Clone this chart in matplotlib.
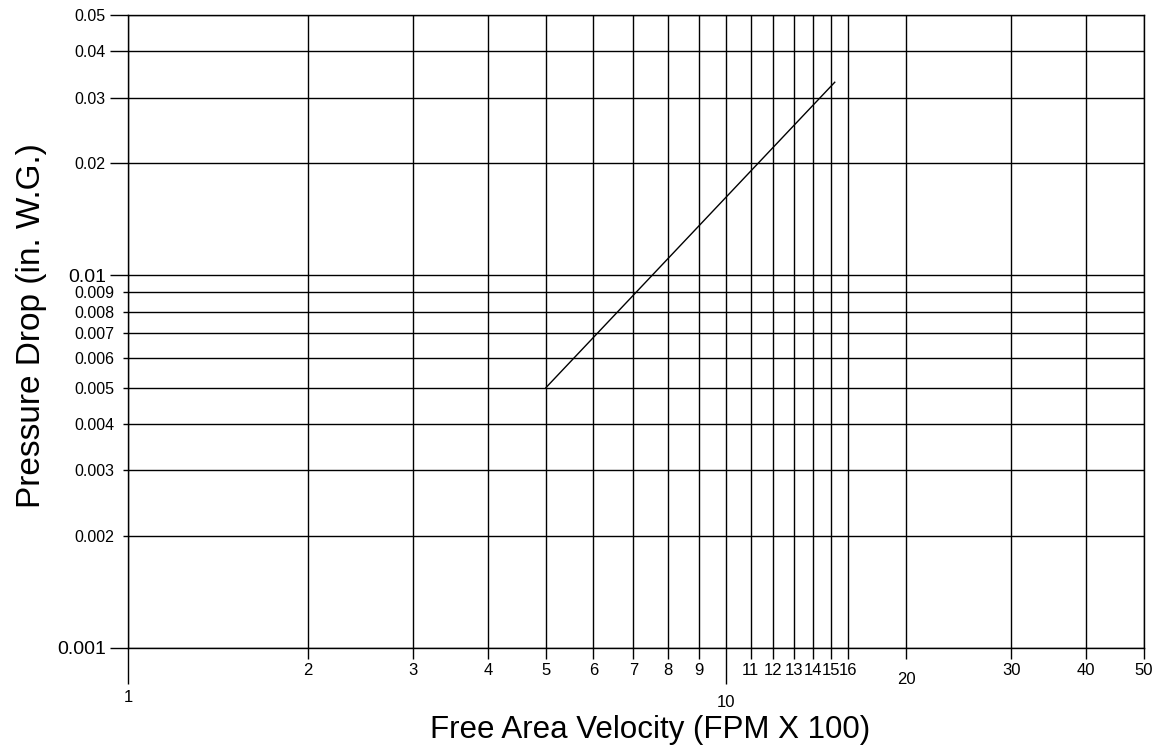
import matplotlib
matplotlib.use('Agg')
import matplotlib.pyplot as plt

# values
velocity = [5, 15.2]          # FPM x 100
pressure_drop = [0.005, 0.033]  # in. W.G.

x_major = [1, 10]
x_minor = [2, 3, 4, 5, 6, 7, 8, 9, 11, 12, 13, 14, 15, 16, 20, 30, 40, 50]
y_major = [0.001, 0.01, 0.02, 0.03, 0.04, 0.05]
y_major_labels = ["0.001", "0.01", "0.02", "0.03", "0.04", "0.05"]
y_minor = [0.002, 0.003, 0.004, 0.005, 0.006, 0.007, 0.008, 0.009]
y_minor_labels = ["0.002", "0.003", "0.004", "0.005", "0.006", "0.007", "0.008", "0.009"]

plt.rcParams['font.family'] = ['Liberation Sans', 'DejaVu Sans']

fig = plt.figure(figsize=(11.54, 7.46), dpi=100)
ax = fig.add_axes([128 / 1154, 98 / 746, 1016 / 1154, 633 / 746])

ax.plot(velocity, pressure_drop, color='black', lw=1.0)

ax.set_xscale('log')
ax.set_yscale('log')
ax.set_xlim(1, 50)
ax.set_ylim(0.001, 0.05)

ax.set_xticks(x_major, labels=[str(v) for v in x_major])
ax.set_xticks(x_minor, labels=[str(v) for v in x_minor], minor=True)
ax.set_yticks(y_major, labels=y_major_labels)
ax.set_yticks(y_minor, labels=y_minor_labels, minor=True)

ax.grid(True, which='both', color='black', lw=1.0)
for s in ax.spines.values():
    s.set_color('black')
    s.set_linewidth(1.0)

ax.tick_params(axis='x', which='major', length=26, width=1, pad=4, labelsize=12)
ax.tick_params(axis='x', which='minor', length=8, width=1, pad=3, labelsize=12)
ax.tick_params(axis='y', which='major', length=13, width=1, pad=3, labelsize=11.5)
ax.tick_params(axis='y', which='minor', length=3.6, width=1, pad=6, labelsize=11.5)

# the "10" tick runs a bit longer and its label sits a little lower
t10 = ax.xaxis.get_major_ticks()[1]
t10.tick1line.set_markersize(28)
t10.set_pad(7.5)
# "20" label is set lower than the rest
ax.xaxis.get_minor_ticks()[x_minor.index(20)].set_pad(9)

# 0.01 and 0.001 are printed larger
for lab in ax.get_yticklabels():
    if lab.get_text() in ("0.01", "0.001"):
        lab.set_fontsize(14)

ax.set_xlabel('Free Area Velocity (FPM X 100)', fontsize=22.5)
ax.xaxis.set_label_coords(0.514, -0.106)
ax.set_ylabel('Pressure Drop (in. W.G.)', fontsize=24)
ax.yaxis.set_label_coords(-0.08, 0.51)

fig.savefig('out.png', dpi=100)
